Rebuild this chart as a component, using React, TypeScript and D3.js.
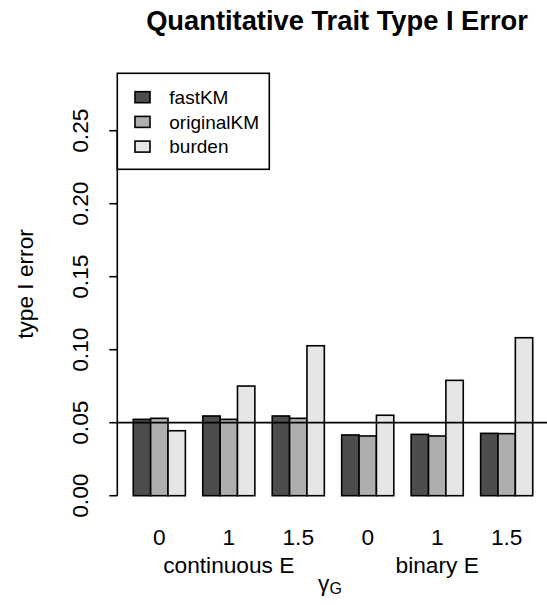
import React from "react";
import * as d3 from "d3";

const groupLabels = ["0", "1", "1.5", "0", "1", "1.5"];
const envLabels = ["continuous E", "binary E"];
const envGroupIndex = [1, 4];
const methods = ["fastKM", "originalKM", "burden"];
const fastKM = [0.0523, 0.0546, 0.0546, 0.0416, 0.042, 0.0427];
const originalKM = [0.053, 0.0523, 0.053, 0.0409, 0.0409, 0.0425];
const burden = [0.0445, 0.0751, 0.1027, 0.0551, 0.079, 0.1082];
const yTicks = [0, 0.05, 0.1, 0.15, 0.2, 0.25];
const colors = ["#4D4D4D", "#AEAEAE", "#E6E6E6"];
const refValue = 0.05;
const title = "Quantitative Trait Type I Error";

const FONT = "'Liberation Sans', Arial, Helvetica, sans-serif";

export default function App() {
  const series = [fastKM, originalKM, burden];
  const nGroups = groupLabels.length;
  const nPer = methods.length;
  const totalUnits = nGroups * (nPer + 1);
  const ext = (totalUnits - 1) * 0.04;
  const x = d3
    .scaleLinear()
    .domain([1 - ext, totalUnits + ext])
    .range([117.3, 548.7]);
  const y = d3.scaleLinear().domain([0, 0.25]).range([495.7, 130.7]);
  const fmt = d3.format(".2f");
  const unitW = x(2) - x(1);

  const barLeft = (g: number, i: number) => g * (nPer + 1) + 1 + i;
  const groupCenter = (g: number) => x(barLeft(g, 1) + 0.5);

  return (
    <svg
      width={547}
      height={605}
      style={{ position: "absolute", left: 0, top: 0, background: "#fff" }}
      fontFamily={FONT}
    >
      <rect x={0} y={0} width={547} height={605} fill="#fff" />
      <text
        x={337}
        y={30}
        textAnchor="middle"
        fontWeight="bold"
        fontSize={27.3}
        fill="#000"
      >
        {title}
      </text>

      {/* bars */}
      {series.map((vals, i) =>
        vals.map((v, g) => (
          <rect
            key={`b${i}-${g}`}
            x={x(barLeft(g, i))}
            y={y(v)}
            width={unitW}
            height={y(0) - y(v)}
            fill={colors[i]}
            stroke="#000"
            strokeWidth={1.6}
          />
        ))
      )}

      {/* reference line */}
      <line
        x1={x.range()[0]}
        x2={x.range()[1]}
        y1={y(refValue)}
        y2={y(refValue)}
        stroke="#000"
        strokeWidth={1.8}
      />

      {/* y axis */}
      <line
        x1={x.range()[0]}
        x2={x.range()[0]}
        y1={y(0)}
        y2={y(0.25)}
        stroke="#000"
        strokeWidth={1.6}
      />
      {yTicks.map((t) => (
        <g key={`t${t}`}>
          <line
            x1={x.range()[0] - 8}
            x2={x.range()[0]}
            y1={y(t)}
            y2={y(t)}
            stroke="#000"
            strokeWidth={1.6}
          />
          <text
            transform={`translate(88, ${y(t)}) rotate(-90)`}
            textAnchor="middle"
            fontSize={22.7}
            fill="#000"
          >
            {fmt(t)}
          </text>
        </g>
      ))}
      <text
        transform={`translate(33, 284) rotate(-90)`}
        textAnchor="middle"
        fontSize={22.7}
        fill="#000"
      >
        type I error
      </text>

      {/* x labels */}
      {groupLabels.map((l, g) => (
        <text
          key={`g${g}`}
          x={groupCenter(g)}
          y={545}
          textAnchor="middle"
          fontSize={22.7}
          fill="#000"
        >
          {l}
        </text>
      ))}
      {envLabels.map((l, k) => (
        <text
          key={`e${k}`}
          x={groupCenter(envGroupIndex[k])}
          y={572.5}
          textAnchor="middle"
          fontSize={22.7}
          fill="#000"
        >
          {l}
        </text>
      ))}
      <text x={330} y={591} textAnchor="middle" fill="#000">
        <tspan fontSize={22.7}>γ</tspan>
        <tspan fontSize={16} dy={3}>G</tspan>
      </text>

      {/* legend */}
      <rect
        x={117.3}
        y={73.3}
        width={152}
        height={96}
        fill="#fff"
        stroke="#000"
        strokeWidth={1.6}
      />
      {methods.map((m, i) => (
        <g key={`l${m}`}>
          <rect
            x={135}
            y={97.2 + i * 24.7 - 5.5}
            width={15}
            height={11}
            fill={colors[i]}
            stroke="#000"
            strokeWidth={1.6}
          />
          <text
            x={169.3}
            y={97.2 + i * 24.7 + 6.8}
            fontSize={19}
            fill="#000"
          >
            {m}
          </text>
        </g>
      ))}
    </svg>
  );
}
